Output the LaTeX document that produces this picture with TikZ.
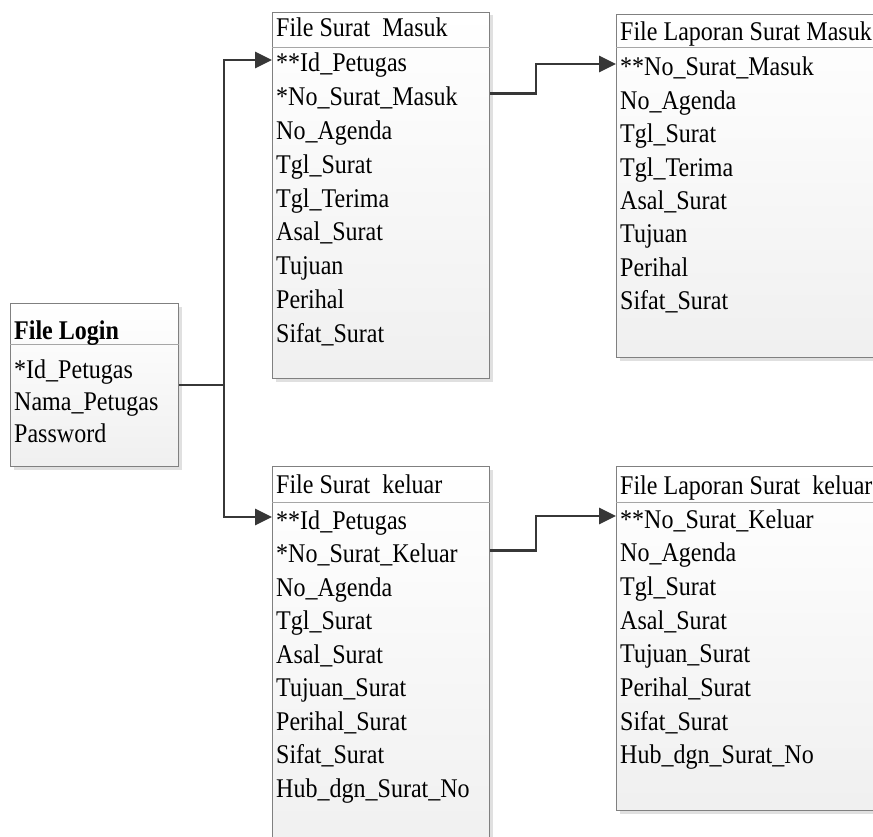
\documentclass[tikz,border=0pt]{standalone}
\usepackage{fontspec}
\setmainfont[FakeStretch=0.89]{Liberation Serif}
\usetikzlibrary{arrows.meta,shadows}
\definecolor{LinkClr}{RGB}{55,55,55}
\definecolor{EdgeClr}{RGB}{128,128,128}
\tikzset{
  entity/.style={draw=EdgeClr,line width=1pt,anchor=north west,inner sep=0pt,
    top color=white,bottom color=black!6,
    drop shadow={shadow xshift=3pt,shadow yshift=-3pt,fill=black!12,opacity=1}},
  sep/.style={draw=EdgeClr!70,line width=1pt},
  field/.style={anchor=base west,inner sep=0pt,text height=24pt,text depth=0pt,
    font=\fontsize{27}{30}\selectfont},
  line/.style={draw=LinkClr,line width=2.8pt},
  link/.style={line,-{Triangle[length=17pt,width=16pt]}}
}

\begin{document}
\begin{tikzpicture}[x=1pt,y=-1pt]
\useasboundingbox (0,0) rectangle (873,837);
\clip (0,0) rectangle (873,837);

\node[entity,minimum width=168pt,minimum height=163pt] (login) at (10,303) {};
\node[entity,minimum width=217pt,minimum height=366pt] (sm) at (272,12) {};
\node[entity,minimum width=290pt,minimum height=343pt] (lsm) at (616,14) {};
\node[entity,minimum width=217pt,minimum height=390pt] (sk) at (272,466) {};
\node[entity,minimum width=290pt,minimum height=344pt] (lsk) at (616,466) {};

\draw[sep] ([yshift=-41pt]login.north west) -- ([yshift=-41pt]login.north east);
\draw[sep] ([yshift=-36pt]sm.north west) -- ([yshift=-36pt]sm.north east);
\draw[sep] ([yshift=-34pt]lsm.north west) -- ([yshift=-34pt]lsm.north east);
\draw[sep] ([yshift=-36pt]sk.north west) -- ([yshift=-36pt]sk.north east);
\draw[sep] ([yshift=-36pt]lsk.north west) -- ([yshift=-36pt]lsk.north east);

\node[field,font=\fontsize{27}{30}\selectfont\bfseries] (login-t) at (14,339) {File Login};
\foreach \t [count=\i] in {*Id\_Petugas,Nama\_Petugas,Password}
  \node[field] (login-\i) at (14,{378+32*(\i-1)}) {\t};

\node[field] (sm-t) at (276,37) {File Surat\ \ Masuk};
\foreach \t [count=\i] in {**Id\_Petugas,*No\_Surat\_Masuk,No\_Agenda,Tgl\_Surat,
    Tgl\_Terima,Asal\_Surat,Tujuan,Perihal,Sifat\_Surat}
  \node[field] (sm-\i) at (276,{72+33.8*(\i-1)}) {\t};

\node[field] (lsm-t) at (620,41) {File Laporan Surat Masuk};
\foreach \t [count=\i] in {**No\_Surat\_Masuk,No\_Agenda,Tgl\_Surat,Tgl\_Terima,
    Asal\_Surat,Tujuan,Perihal,Sifat\_Surat}
  \node[field] (lsm-\i) at (620,{76+33.4*(\i-1)}) {\t};

\node[field] (sk-t) at (276,493) {File Surat\ \ keluar};
\foreach \t [count=\i] in {**Id\_Petugas,*No\_Surat\_Keluar,No\_Agenda,Tgl\_Surat,
    Asal\_Surat,Tujuan\_Surat,Perihal\_Surat,Sifat\_Surat,Hub\_dgn\_Surat\_No}
  \node[field] (sk-\i) at (276,{529+33.5*(\i-1)}) {\t};

\node[field] (lsk-t) at (620,494) {File Laporan Surat\ \ keluar};
\foreach \t [count=\i] in {**No\_Surat\_Keluar,No\_Agenda,Tgl\_Surat,Asal\_Surat,
    Tujuan\_Surat,Perihal\_Surat,Sifat\_Surat,Hub\_dgn\_Surat\_No}
  \node[field] (lsk-\i) at (620,{528+33.7*(\i-1)}) {\t};

\coordinate (jn) at ([xshift=45pt]login.east);
\draw[line] (login.east) -- (jn);
\draw[link] (jn) |- (sm-1.west -| sm.west);
\draw[link] (jn) |- (sk-1.west -| sk.west);
\draw[link] (sm-2.west -| sm.east) -- ++(46,0) |- (lsm-1.west -| lsm.west);
\draw[link] (sk-2.west -| sk.east) -- ++(46,0) |- (lsk-1.west -| lsk.west);

\end{tikzpicture}
\end{document}
